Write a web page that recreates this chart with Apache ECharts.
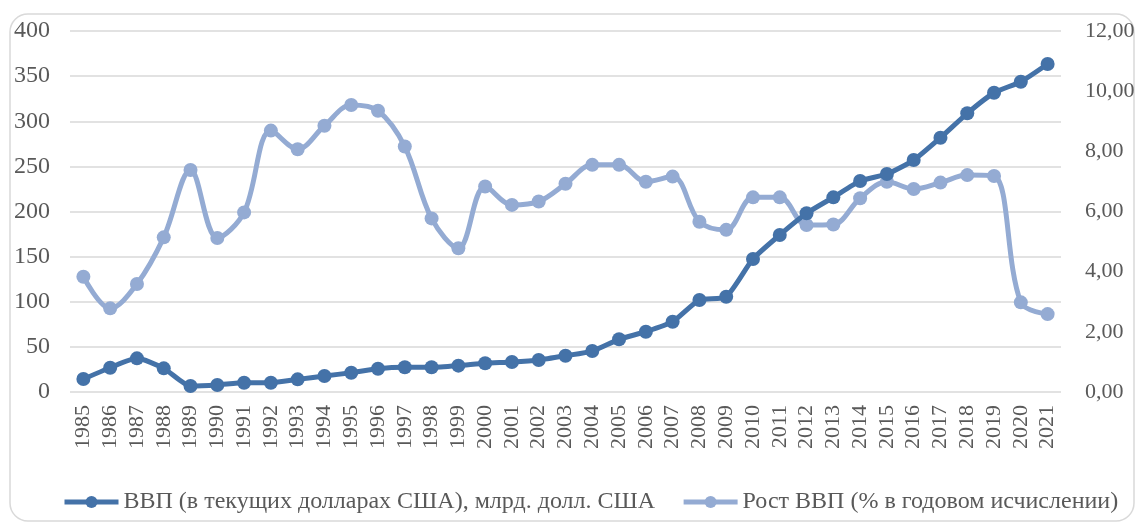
<!DOCTYPE html>
<html>
<head>
<meta charset="utf-8">
<script src="https://cdn.jsdelivr.net/npm/echarts@6/dist/echarts.min.js"></script>
<style>
  html, body { margin: 0; padding: 0; background: #fff; }
  #chart { width: 1138px; height: 529px; }
</style>
</head>
<body>
<div id="chart"></div>
<script>
// Years on the category axis
const years = ['1985','1986','1987','1988','1989','1990','1991','1992','1993','1994','1995','1996',
  '1997','1998','1999','2000','2001','2002','2003','2004','2005','2006','2007','2008','2009','2010',
  '2011','2012','2013','2014','2015','2016','2017','2018','2019','2020','2021'];

// GDP in current US dollars, bn USD (left axis)
const gdp = [14.4, 26.9, 37.3, 26.2, 6.6, 7.8, 10.3, 10.3, 14.0, 17.7, 21.4, 25.8,
  27.4, 27.4, 29.2, 31.8, 33.2, 35.5, 40.2, 45.4, 58.4, 66.8, 77.9, 101.9, 105.6, 147.4,
  174.0, 198.0, 215.7, 233.8, 241.5, 257.0, 281.8, 308.8, 331.6, 343.8, 363.4];

// GDP growth, % per year (right axis)
const growth = [3.83, 2.78, 3.59, 5.14, 7.38, 5.12, 5.97, 8.69, 8.07, 8.85, 9.54, 9.35,
  8.16, 5.77, 4.78, 6.83, 6.22, 6.33, 6.92, 7.55, 7.55, 6.99, 7.16, 5.66, 5.39, 6.47,
  6.47, 5.55, 5.57, 6.44, 6.99, 6.75, 6.96, 7.21, 7.18, 2.98, 2.59];

const leftTicks = [0, 50, 100, 150, 200, 250, 300, 350, 400];
const rightTicks = [0, 2, 4, 6, 8, 10, 12];

const nameGdp = 'ВВП (в текущих долларах США), млрд. долл. США';
const nameGrowth = 'Рост ВВП (% в годовом исчислении)';

const darkBlue = '#4472a8';
const lightBlue = '#94abd3';
const textColor = '#595959';
const font = '"Liberation Serif", "DejaVu Serif", serif';

const chart = echarts.init(document.getElementById('chart'), null, { renderer: 'canvas' });

chart.setOption({
  backgroundColor: '#fff',
  animation: false,
  textStyle: { fontFamily: font },
  graphic: [{
    type: 'rect',
    shape: { x: 10, y: 14, width: 1124, height: 507, r: 18 },
    style: { fill: 'none', stroke: '#d9d9d9', lineWidth: 1.5 },
    silent: true,
    z: -1
  }],
  grid: { left: 70, right: 77, top: 31, bottom: 137, containLabel: false },
  legend: {
    top: 485,
    left: 57,
    itemWidth: 54,
    itemHeight: 15,
    itemGap: 26,
    lineStyle: { width: 5 },
    textStyle: { color: textColor, fontSize: 24, fontFamily: font },
    data: [nameGdp, nameGrowth]
  },
  xAxis: {
    type: 'category',
    data: years,
    boundaryGap: true,
    axisLine: { show: false },
    axisTick: { show: false },
    axisLabel: {
      rotate: 90,
      interval: 0,
      color: textColor,
      fontSize: 22,
      fontFamily: font,
      margin: 13
    }
  },
  yAxis: [{
    type: 'value',
    min: leftTicks[0],
    max: leftTicks[leftTicks.length - 1],
    interval: 50,
    axisLine: { show: false },
    axisTick: { show: false },
    splitLine: { lineStyle: { color: '#d9d9d9', width: 1.5 } },
    axisLabel: { color: textColor, fontSize: 24, fontFamily: font, margin: 20 }
  }, {
    type: 'value',
    min: rightTicks[0],
    max: rightTicks[rightTicks.length - 1],
    interval: 2,
    axisLine: { show: false },
    axisTick: { show: false },
    splitLine: { show: false },
    axisLabel: {
      color: textColor, fontSize: 22, fontFamily: font, margin: 24,
      formatter: v => v.toFixed(2).replace('.', ',')
    }
  }],
  series: [{
    name: nameGdp,
    type: 'line',
    yAxisIndex: 0,
    data: gdp,
    smooth: 0.2,
    symbol: 'circle',
    symbolSize: 14,
    lineStyle: { color: darkBlue, width: 5 },
    itemStyle: { color: darkBlue },
    z: 3
  }, {
    name: nameGrowth,
    type: 'line',
    yAxisIndex: 1,
    data: growth,
    smooth: 0.35,
    symbol: 'circle',
    symbolSize: 14,
    lineStyle: { color: lightBlue, width: 5 },
    itemStyle: { color: lightBlue },
    z: 2
  }]
});
</script>
</body>
</html>
